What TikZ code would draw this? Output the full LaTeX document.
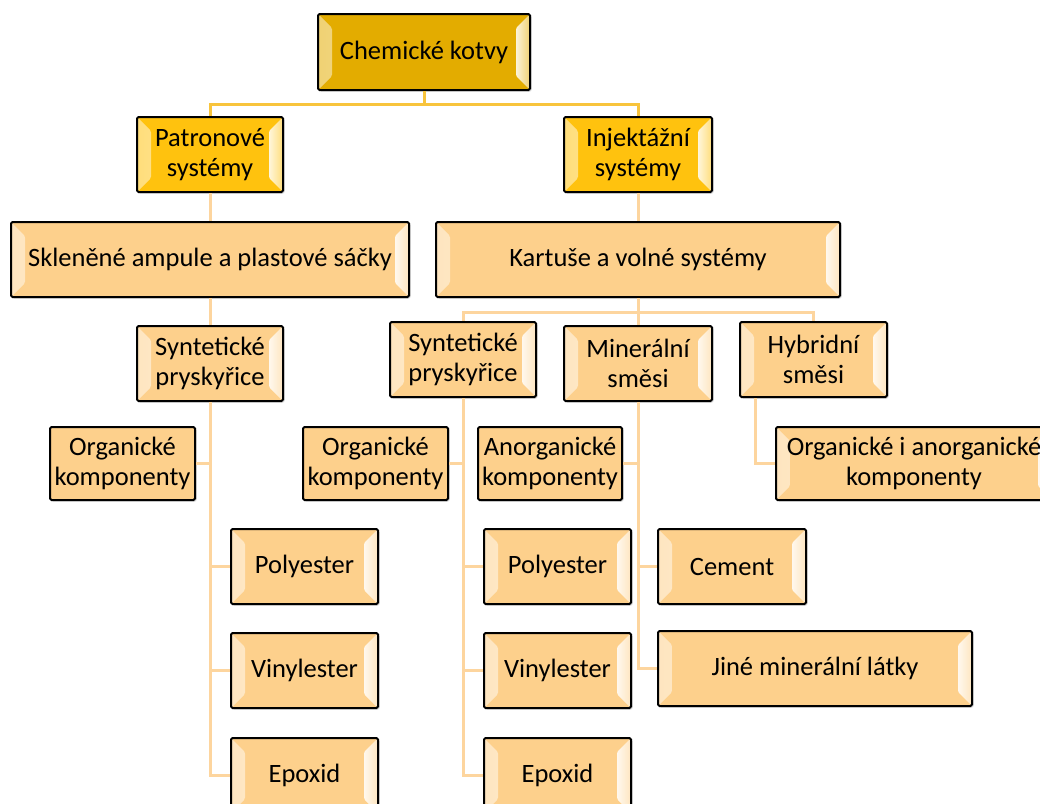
\documentclass[tikz,border=0pt]{standalone}
\usepackage{fontspec}
\setmainfont{Carlito}
\usetikzlibrary{positioning,calc,shadows}
\definecolor{goldtop}{HTML}{E3AC00}
\definecolor{goldmid}{HTML}{FFC20E}
\definecolor{peach}{HTML}{FDD08C}
\definecolor{linegold}{HTML}{F8C43C}
\definecolor{linepeach}{HTML}{FDD59E}
\tikzset{
  box/.style={draw=black, line width=2pt, rounded corners=1.5pt, fill=#1,
    align=center, inner sep=0pt, font=\fontsize{26.5}{30}\selectfont,
    minimum height=75pt,
    drop shadow={opacity=0.35, shadow xshift=1.5pt, shadow yshift=-1.5pt}},
  flatbox/.style={box=#1, minimum height=73pt},
  bevelbox/.style={box=#1, path picture={
    \shade[left color=#1!55!white, right color=white!85!#1]
      (path picture bounding box.north west) -- ++(14pt,-14pt)
      -- ($(path picture bounding box.south west)+(14pt,14pt)$)
      -- (path picture bounding box.south west) -- cycle;
    \shade[left color=white!85!#1, right color=#1!55!white]
      (path picture bounding box.north east) -- ++(-14pt,-14pt)
      -- ($(path picture bounding box.south east)+(-14pt,14pt)$)
      -- (path picture bounding box.south east) -- cycle;
  }},
  link/.style={draw=linepeach, line width=3pt},
  toplink/.style={draw=linegold, line width=3pt},
}
\begin{document}
\begin{tikzpicture}[x=1pt, y=-1pt]
 \useasboundingbox (0,0) rectangle (1040,803);
 \clip (0,0) rectangle (1040,803);
 % levels 1-3
 \node[bevelbox=goldtop, minimum width=212pt, minimum height=76pt] (kotvy) at (424,52) {Chemické kotvy};
 \node[bevelbox=goldmid, minimum width=146pt] (patron) at (210,154.5) {Patronové\\systémy};
 \node[bevelbox=goldmid, minimum width=148pt] (injekt) at (638,154.5) {Injektážní\\systémy};
 \node[bevelbox=peach, minimum width=398pt, below=28pt of patron] (ampule) {Skleněné ampule a plastové sáčky};
 \node[bevelbox=peach, minimum width=404pt, below=28pt of injekt] (kartuse) {Kartuše a volné systémy};
 \node[bevelbox=peach, minimum width=146pt, below=27pt of ampule] (syntA) {Syntetické\\pryskyřice};
 \node[bevelbox=peach, minimum width=146pt] (syntB) at (463,359.5) {Syntetické\\pryskyřice};
 \node[bevelbox=peach, minimum width=148pt, below=27pt of kartuse] (miner) {Minerální\\směsi};
 \node[bevelbox=peach, minimum width=147pt] (hybrid) at (813.5,359.5) {Hybridní\\směsi};
 % components
 \node[flatbox=peach, minimum width=145pt] (organA) at (122.5,463.5) {Organické\\komponenty};
 \node[flatbox=peach, minimum width=145pt] (organB) at (375.5,463.5) {Organické\\komponenty};
 \node[flatbox=peach, minimum width=144pt] (anorg) at (550,463.5) {Anorganické\\komponenty};
 \node[bevelbox=peach, minimum width=276pt, minimum height=73pt] (organAn) at (914,463.5) {Organické i anorganické\\komponenty};
 % resins and mineral types
 \node[bevelbox=peach, minimum width=147pt] (polyA) at (304.5,566.5) {Polyester};
 \node[bevelbox=peach, minimum width=147pt, below=27pt of polyA] (vinylA) {Vinylester};
 \node[bevelbox=peach, minimum width=147pt, below=28pt of vinylA] (epoxA) {Epoxid};
 \node[bevelbox=peach, minimum width=147pt] (polyB) at (557.5,566.5) {Polyester};
 \node[bevelbox=peach, minimum width=147pt, below=27pt of polyB] (vinylB) {Vinylester};
 \node[bevelbox=peach, minimum width=147pt, below=28pt of vinylB] (epoxB) {Epoxid};
 \node[bevelbox=peach, minimum width=148pt] (cement) at (732,566.5) {Cement};
 \node[bevelbox=peach, minimum width=314pt] (jine) at (815,668.5) {Jiné minerální látky};
 %
 \draw[toplink] (kotvy.south) -- ++(0,13) -| (patron.north);
 \draw[toplink] (kotvy.south) -- ++(0,13) -| (injekt.north);
 \draw[link] (patron) -- (ampule);
 \draw[link] (ampule) -- (syntA);
 \draw[link] (injekt) -- (kartuse);
 \foreach \n in {syntB,miner,hybrid}
   \draw[link] (kartuse.south) -- ++(0,14) -| (\n.north);
 \draw[link] (syntA.south) |- (organA.east);
 \draw[link] (syntB.south) |- (organB.east);
 \draw[link] (miner.south) |- (anorg.east);
 \draw[link] ($(hybrid.south west)+(16,0)$) |- (organAn.west);
 \foreach \n in {polyA,vinylA,epoxA}
   \draw[link] (syntA.south) |- (\n.west);
 \foreach \n in {polyB,vinylB,epoxB}
   \draw[link] (syntB.south) |- (\n.west);
 \foreach \n in {cement,jine}
   \draw[link] (miner.south) |- (\n.west);
\end{tikzpicture}
\end{document}
